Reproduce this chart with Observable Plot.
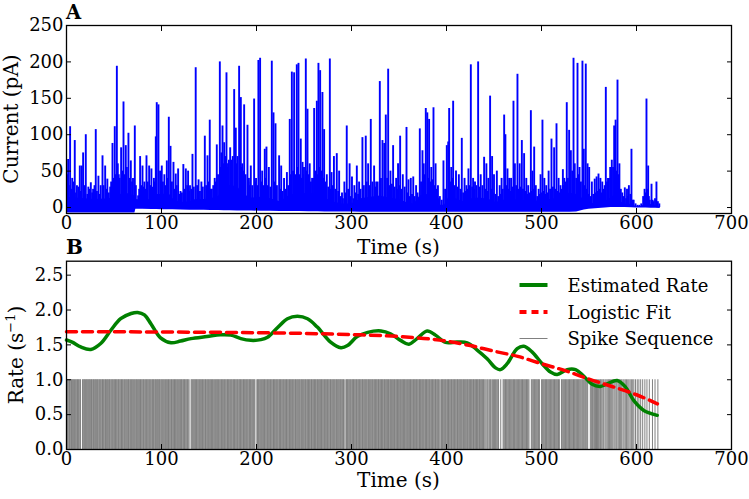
<!DOCTYPE html>
<html><head><meta charset="utf-8">
<script src="https://cdn.jsdelivr.net/npm/d3@7"></script>
<script src="https://cdn.jsdelivr.net/npm/@observablehq/plot@0.6"></script>
<style>
body{margin:0;background:#fff;}
#wrap{position:relative;width:749px;height:499px;overflow:hidden;background:#fff;}
#wrap svg{position:absolute;left:0;}
</style></head><body><div id="wrap"></div>
<script>
// ---------- Panel A: current trace ----------
const xTicks = [0, 100, 200, 300, 400, 500, 600, 700];
const yTicksA = [0, 50, 100, 150, 200, 250];
const yTicksB = [0, 0.5, 1.0, 1.5, 2.0, 2.5];

// peak current of each large burst [time s, current pA]
const currentPeaks = [[0.8,45],[1.7,66],[3.8,111],[6,40],[8.7,92],[11,30],[14,57],[16,57],[17.5,75],[20.3,100],[23,28],[25.6,34],[28,25],[30.8,107],[33.6,43],[36,30],[37.9,71],[40.7,57],[43,39],[46,28],[48.4,88],[50.8,111],[53,194],[55,45],[57.5,82],[60,145],[62.4,85],[65.2,102],[67.7,64],[70,40],[71.9,112],[75.4,16],[77.5,70],[80,57],[82,35],[84.2,71],[87,57],[89.4,53],[92,40],[94,97],[95,144],[96.8,141],[98.5,50],[100.3,57],[103,45],[105.6,64],[107.7,124],[109.5,84],[112.6,62],[115,46],[117.5,53],[120,22],[123,59],[125.6,53],[128,50],[130,30],[132.6,73],[136,192],[139,38],[142,35],[145.6,98],[148.4,71],[150.8,120],[153,25],[156,40],[158.2,86],[161.4,200],[163,75],[164.2,112],[166,89],[168.4,185],[170,60],[172.3,82],[174,65],[176.5,162],[178.2,109],[180,70],[181.7,194],[183.5,151],[185,60],[187,141],[190.5,113],[192,40],[194,57],[197.5,149],[199.5,40],[202,202],[203.8,205],[206,50],[208.7,80],[210.5,83],[213,55],[216.1,201],[217.9,130],[220,115],[223.8,71],[226,57],[229,40],[232,48],[235,121],[237.2,186],[239.6,185],[242.4,196],[244.2,198],[246.6,94],[248.5,62],[250,55],[251.9,204],[253.7,135],[256,60],[258.5,40],[260.7,136],[263.5,146],[265.2,198],[267,188],[269.4,158],[271.2,107],[274,45],[277.2,204],[279,48],[281.5,70],[284.5,74],[287,50],[290,20],[292.5,35],[295,112],[298,60],[300.5,42],[303,30],[305.6,57],[308,35],[311.5,96],[315,98],[317.5,60],[320.3,121],[323.8,57],[326,35],[329.8,173],[332.6,92],[334.5,88],[336.1,127],[338.6,190],[341,50],[343.8,85],[347,40],[349,60],[351.2,98],[354,45],[357.9,110],[360,38],[362.4,40],[365,42],[368,30],[371.9,108],[374.7,78],[376,60],[378.2,136],[379.8,130],[381.7,121],[384,55],[386.3,137],[388.5,60],[391,30],[393,15],[396.8,64],[400.3,85],[401.8,90],[402.8,136],[405,55],[407,146],[410,50],[413,45],[416.1,95],[419,40],[421,30],[423.1,53],[425.6,196],[428,40],[430,35],[433.3,200],[436,45],[439.6,69],[442,60],[444,40],[445.9,153],[448,70],[450,45],[453,50],[456,30],[458,40],[460.7,127],[462,100],[464.2,53],[466,40],[468,40],[470.5,146],[472,60],[474.7,183],[477,60],[479.3,92],[481.7,74],[484,40],[486,30],[488.8,133],[490.5,50],[492.3,83],[494,30],[497,25],[499,45],[501,120],[503,40],[505,30],[507.5,50],[510.5,94],[513.3,82],[515.8,115],[518,40],[520,30],[522.5,52],[524,40],[526.6,144],[529.1,106],[530.9,78],[533.7,205],[535,60],[537.9,198],[540,55],[543.1,201],[544.5,80],[546.6,197],[548.5,60],[550.2,55],[553,35],[556,39],[558,42],[560,46],[562,40],[564,35],[567.7,165],[570,40],[572.3,55],[574,65],[576.5,112],[578,120],[580,175],[582,60],[585,20],[587.7,27],[590,25],[592,30],[594.7,80],[597,10],[603,3],[607,15],[608.5,25],[610.5,149],[612.3,57],[614,10],[615.8,32],[618,8],[621,35],[624,5]];

// small bursts between the large ones [time s, current pA]
const smallBursts = [[2.5,30],[5,25],[7.5,35],[10,20],[12.5,28],[15,22],[19,30],[22,18],[24.5,25],[27,20],[29.5,30],[32,22],[35,18],[39,30],[42,25],[44.5,20],[47,35],[49.5,40],[52,45],[54,60],[56,40],[59,50],[61,45],[63.5,55],[66.5,40],[69,35],[73,30],[76.5,25],[79,30],[81,28],[83,25],[85.5,35],[88,30],[91,28],[93,35],[99.5,40],[101.5,35],[104,30],[106.5,40],[111,35],[114,25],[116,30],[119,18],[121.5,20],[124,25],[127,30],[129,22],[131.5,25],[134,28],[137.5,30],[140.5,22],[143.5,28],[147,30],[149.5,35],[152,25],[154.5,30],[157,35],[159.5,45],[162.5,55],[165,60],[167.5,70],[169,55],[171,65],[173,60],[175,70],[177.5,65],[179,60],[182.5,75],[184,55],[186,50],[188.5,45],[191.5,35],[193,30],[195.5,30],[198.5,35],[201,30],[205,35],[207.5,30],[209.5,40],[212,30],[214.5,28],[219,35],[221.5,30],[225,25],[227.5,22],[230.5,25],[233.5,30],[236,45],[238.5,50],[241,45],[243.3,55],[245.5,45],[247.5,40],[249,45],[252.8,50],[255,45],[257.3,35],[259.5,40],[262,50],[264.4,45],[266,55],[268.2,50],[270.3,40],[272.5,35],[275.5,28],[278,25],[280,30],[283,25],[286,22],[288.5,15],[291,12],[294,20],[296.5,25],[299,15],[302,12],[304.5,20],[307,18],[309.5,25],[313,30],[316,35],[319,30],[322,35],[325,28],[327.5,35],[331,40],[335.3,35],[337.5,40],[340,30],[342.5,32],[345.5,28],[348,25],[350,30],[352.8,25],[356,28],[359,20],[361.2,15],[363.7,18],[366.5,15],[369.5,20],[373.2,35],[375.5,40],[377.2,45],[380.7,40],[383,35],[385.2,38],[387.5,30],[389.5,25],[392,12],[395,10],[398.5,25],[404,35],[406,40],[408.5,30],[411.5,28],[414.5,25],[417.5,20],[420,22],[422,25],[424.5,30],[427,28],[429,25],[431.5,30],[435,28],[437.8,30],[441,25],[443,22],[447,25],[449,20],[451.5,18],[454.5,15],[457,18],[459.3,25],[463,30],[465,25],[467,22],[469.3,28],[471.3,25],[473.3,30],[476,25],[478,28],[480.5,25],[482.8,22],[485,18],[487.5,20],[489.8,22],[491.5,25],[493.2,20],[495.5,15],[498,18],[500,20],[502,22],[504,18],[506.3,20],[509,25],[512,28],[514.5,25],[517,22],[519,20],[521.3,25],[523.3,30],[525.3,35],[527.8,40],[530,45],[532.3,50],[534.3,45],[536.5,40],[539,45],[541.5,35],[545.5,30],[547.5,25],[549.3,18],[551.5,15],[554.5,18],[557,20],[559,22],[561,25],[563,20],[565.5,25],[566.5,30],[569,35],[571,40],[573.2,45],[575.3,55],[577.3,60],[579,50],[581,45],[583.5,25],[586.5,15],[589,12],[591,15],[593.5,18],[596,10],[599,5],[601,3],[605,5],[609.5,20],[611.5,25],[613,15],[617,10],[619.5,12],[622.5,8]];

// dense low-level activity band: time, lower edge (baseline), upper edge
const bandT  = [0,10,20,30,45,55,65,72,73,80,90,95,100,108,112,120,130,136,145,152,160,166,172,180,186,195,205,215,225,235,245,255,265,272,280,290,300,310,320,330,340,350,360,366,372,380,390,394,398,402,410,418,426,435,445,452,460,470,480,490,500,510,520,530,537,545,550,560,567,573,578,583,588,595,600,605,610,615,620,625];
const bandLo = [-7.5,-7.5,-7.5,-7.5,-7.5,-7.5,-7.5,-7.5,-2.5,-2.5,-2.7,-2.8,-3,-3.1,-3.2,-3.4,-3.6,-3.7,-3.9,-4,-4.2,-4.3,-4.4,-4.6,-4.7,-4.9,-5,-5.2,-5.4,-5.5,-5.6,-5.8,-5.9,-6,-6,-6.2,-6.3,-6.4,-6.5,-6.5,-6.5,-6.5,-6.5,-6.5,-6.5,-6.5,-6.5,-6.5,-6.5,-6.5,-6.5,-6.5,-6.5,-6.5,-6.5,-6.5,-6.5,-6.5,-6.5,-6.5,-6.5,-6.5,-6.5,-6.5,-6,-3.5,-2.5,-1.2,-0.5,0,0,0,0,-0.3,-0.5,-0.8,-0.8,-1,-1,-1.2];
const bandHi = [14,13,12,11,12,18,19,16,11,10,11,18,18,19,12,7,8,11,11,12,15,27,30,29,18,13,14,12,8,17,20,19,20,13,8,5,5,12,14,16,13,11,6,5,16,18,8,3,3,13,12,8,12,13,11,7,10,11,10,8,10,11,14,20,18,11,6,5,8,13,18,8,5,4,1,1.5,5,4,2.5,0];

// ---------- Panel B ----------
const rateT = [0,6,15,25.6,36,46.7,57,68,75,82,89,99,110,120,131,148,162,173,183.5,194,204.6,211.6,222,232.6,243,253.7,264,278,288.8,295.8,306,317,331,341,351.6,360.4,369,379.6,388.4,399,411,421.8,432,442.8,451.6,456.8,463.9,474.4,481.4,490,500.7,509.5,516.5,527,535.8,544.6,553.3,562,569,579.6,588.4,597.2,607.7,621.8];
const rateV = [1.57,1.54,1.47,1.435,1.52,1.71,1.875,1.95,1.965,1.93,1.80,1.60,1.53,1.555,1.59,1.62,1.645,1.64,1.59,1.565,1.575,1.61,1.745,1.875,1.91,1.875,1.755,1.54,1.46,1.49,1.62,1.68,1.70,1.66,1.565,1.51,1.59,1.70,1.64,1.535,1.54,1.53,1.43,1.30,1.17,1.145,1.23,1.445,1.48,1.40,1.23,1.11,1.075,1.145,1.145,1.05,0.935,0.905,0.94,0.99,0.895,0.70,0.56,0.49];
const fitT = [0,100,200,250,300,350,400,425,450,475,500,525,550,575,600,622];
const fitV = [1.69,1.685,1.675,1.665,1.648,1.62,1.555,1.49,1.41,1.335,1.23,1.13,1.01,0.90,0.785,0.655];

const spikeTimes = [0.2,0.9,1.6,2.5,3.1,3.9,4.8,5.3,6.2,7.0,7.6,8.5,9.3,
10.1,10.9,11.6,12.5,13.2,14.1,14.8,16.9,17.6,18.4,19.1,19.9,
20.8,21.4,22.3,23.0,23.9,24.5,25.4,26.3,26.9,27.8,28.5,29.3,
30.2,30.8,31.7,32.5,33.2,34.1,34.9,35.6,36.4,37.3,37.9,38.8,39.6,
40.5,41.1,42.0,42.9,43.5,44.4,45.2,45.9,46.8,47.6,48.3,49.2,
50.0,50.7,51.6,52.4,53.1,54.0,54.8,55.5,56.4,57.2,57.9,58.8,59.5,
60.4,61.2,61.9,62.8,63.5,64.4,65.2,65.8,66.7,67.5,68.3,69.1,69.8,
70.7,71.4,72.3,73.1,73.8,74.6,75.5,76.2,77.0,77.9,78.6,79.4,
80.3,81.0,81.8,82.7,83.4,84.3,85.0,85.8,86.6,87.5,88.2,89.0,89.9,
90.6,91.5,92.2,93.1,93.8,94.6,95.5,96.1,97.0,97.8,98.5,99.4,
100.2,100.9,101.8,102.5,103.4,104.1,105.0,105.7,106.5,107.4,108.1,108.9,109.8,
110.5,111.3,112.2,112.9,113.7,114.6,115.3,116.1,117.0,117.7,118.6,119.3,
120.1,121.0,121.7,122.6,123.3,124.2,124.9,125.7,126.6,127.3,128.1,129.0,
131.2,131.9,132.8,133.5,134.4,135.1,135.9,136.8,137.5,138.3,139.2,139.9,
140.8,141.5,142.3,143.2,143.9,144.7,145.6,146.3,147.1,148.0,148.7,149.6,
150.3,151.2,151.9,152.7,153.6,154.3,155.1,156.0,156.7,157.6,158.3,159.1,159.9,
160.7,161.5,162.4,163.1,164.0,164.7,165.5,166.4,167.1,167.9,168.8,169.5,
170.4,171.1,171.9,172.8,173.5,174.3,175.2,175.9,176.8,177.5,178.3,179.2,179.9,
180.7,181.6,182.3,183.2,183.9,184.7,185.6,186.3,187.2,187.9,188.7,189.6,
190.3,191.1,192.0,192.7,193.6,194.3,195.1,196.0,196.7,197.6,198.3,200.4,
201.1,202.0,202.7,203.5,204.4,205.1,206.0,206.7,207.5,208.4,209.1,209.9,
210.8,211.5,212.4,213.1,213.9,214.8,215.5,216.3,217.2,217.9,218.8,219.5,
220.3,221.2,221.9,222.7,223.6,224.3,225.2,225.9,226.7,227.6,228.3,229.1,229.9,
230.7,231.6,232.3,233.1,234.0,234.7,235.6,236.3,237.1,238.0,238.7,239.5,
240.4,241.1,241.9,242.8,243.5,244.4,245.1,245.9,246.8,247.5,248.3,249.2,249.9,
250.8,251.5,252.3,253.2,253.9,254.7,255.6,256.3,257.2,257.9,258.7,259.6,
260.3,261.1,262.0,262.7,263.6,264.3,265.1,266.0,266.7,267.5,268.4,269.1,269.9,
270.8,271.5,272.4,273.1,273.9,274.8,275.5,276.3,277.2,277.9,278.7,279.6,
280.3,281.2,281.9,282.7,283.6,284.3,285.1,286.0,286.7,287.6,288.3,289.1,289.9,
290.7,291.6,292.3,294.1,294.8,295.7,296.4,297.2,298.1,298.8,299.6,
300.5,301.2,302.1,302.8,303.6,304.5,305.2,306.0,306.9,307.6,308.5,309.2,
310.0,310.9,311.6,312.4,313.3,314.0,314.9,315.6,316.4,317.3,318.0,318.8,319.7,
320.4,321.3,322.0,322.8,323.7,324.4,325.2,326.1,326.8,327.7,328.4,329.2,
330.1,330.8,331.6,332.5,333.2,334.1,334.8,335.6,336.5,337.2,338.0,338.9,339.6,
340.5,341.2,342.0,342.9,343.6,344.4,345.3,346.0,346.9,347.6,348.4,349.3,
350.0,350.8,351.7,352.4,353.3,354.0,354.8,355.7,356.4,357.2,358.1,358.8,359.7,
360.4,361.2,362.1,362.8,363.6,364.5,365.2,366.1,366.8,367.6,368.5,369.2,
370.0,370.9,371.6,372.5,373.2,374.0,374.9,375.6,376.4,377.3,378.0,378.9,379.6,
380.4,381.3,382.0,382.8,383.7,384.4,385.3,386.0,386.8,387.7,388.4,389.2,
390.1,390.8,391.7,392.4,394.0,394.8,395.7,396.4,397.2,398.1,398.8,399.6,
400.5,401.2,402.1,402.8,403.6,404.5,405.2,406.0,406.9,407.6,408.5,409.2,
410.0,410.9,411.6,412.4,413.3,414.0,414.9,415.6,416.4,417.3,418.0,418.8,419.7,
420.4,421.3,422.0,422.8,423.7,424.4,425.2,426.1,426.8,427.7,428.4,429.2,
430.1,430.8,431.6,432.5,433.2,434.1,434.8,435.6,436.5,437.2,438.0,438.9,439.6,
440.6,441.7,442.9,443.8,445.1,446.2,447.0,448.3,449.4,
450.6,451.5,452.8,453.9,454.8,457.1,459.6,
460.4,461.3,462.1,463.0,463.8,464.7,465.5,466.4,467.2,468.1,468.9,469.8,
470.6,471.5,472.3,473.2,474.0,474.9,475.7,476.6,477.4,478.3,479.1,
480.0,480.8,481.7,482.5,483.4,484.2,485.1,485.9,486.8,489.3,
490.1,491.0,491.8,492.7,493.5,494.4,495.2,496.1,496.9,497.8,500.1,
500.9,501.8,502.6,503.5,504.3,505.2,506.0,506.9,507.7,508.6,509.4,
510.3,511.1,512.0,512.8,513.7,514.5,515.4,516.2,517.1,517.9,518.8,521.0,
521.8,522.7,523.5,524.4,525.2,526.1,526.9,527.8,528.6,529.5,
530.3,531.2,532.0,532.9,533.7,534.6,535.4,536.3,537.1,538.0,538.8,539.7,
540.6,541.5,542.5,543.4,544.4,545.5,546.5,547.6,548.6,
551.4,552.5,553.6,554.5,555.7,556.8,557.9,558.9,
560.1,561.3,562.2,563.4,564.6,565.5,566.9,568.0,569.2,
570.4,571.5,572.8,573.9,575.0,576.3,577.4,578.6,579.5,
580.8,582.0,583.3,584.4,585.8,586.9,588.2,589.4,
590.8,592.0,593.3,594.6,596.0,597.2,598.9,
600.8,602.5,604.4,606.5,608.8,611.0,613.5,616.8,619.5,622.5];

// ---------- build tables ----------
const peaks = currentPeaks.concat(smallBursts).map(([t, v]) => ({t, v}));
const band = bandT.map((t, i) => ({t, lo: bandLo[i], hi: bandHi[i]}));
const rate = rateT.map((t, i) => ({t, v: rateV[i]}));
const fit = fitT.map((t, i) => ({t, v: fitV[i]}));

const FONT = '"DejaVu Serif", serif';
const common = {
  width: 749,
  style: {fontFamily: FONT, fontSize: "18px", background: "transparent", color: "#000", overflow: "visible"}
};
const axes = (yTicks, fmt) => [
  Plot.frame({stroke: "#000", strokeWidth: 1.3}),
  Plot.axisX({anchor: "bottom", ticks: xTicks, tickSize: -5, tickPadding: 8, label: null}),
  Plot.axisX({anchor: "top", ticks: xTicks, tickSize: -5, tickFormat: () => "", label: null}),
  Plot.axisY({anchor: "left", ticks: yTicks, tickSize: -5, tickPadding: 8, tickFormat: fmt, label: null}),
  Plot.axisY({anchor: "right", ticks: yTicks, tickSize: -5, tickFormat: () => "", label: null})
];

const plotA = Plot.plot({
  ...common, height: 250,
  marginLeft: 66, marginRight: 18, marginTop: 25, marginBottom: 37,
  x: {domain: [0, 700]}, y: {domain: [-8.2, 250]},
  marks: [
    Plot.areaY(band, {x: "t", y1: "lo", y2: "hi", fill: "#0000ff"}),
    Plot.ruleX(peaks, {x: "t", y1: 0, y2: "v", stroke: "#0000ff", strokeWidth: 1.9}),
    ...axes(yTicksA, d => String(d))
  ]
});

const plotB = Plot.plot({
  ...common, height: 249,
  marginLeft: 66, marginRight: 18, marginTop: 10.7, marginBottom: 50,
  x: {domain: [0, 700]}, y: {domain: [0, 2.7]},
  marks: [
    Plot.ruleX(spikeTimes, {x: d => d, y1: 0, y2: 1, stroke: "#808080", strokeWidth: 1}),
    Plot.line(rate, {x: "t", y: "v", stroke: "#008000", strokeWidth: 3.5, curve: "catmull-rom"}),
    Plot.line(fit, {x: "t", y: "v", stroke: "#ff0000", strokeWidth: 3.5, strokeDasharray: "10,6", curve: "monotone-x"}),
    ...axes(yTicksB, d3.format(".1f"))
  ]
});

const wrap = document.getElementById("wrap");
plotA.style.top = "0px";
plotB.style.top = "250px";
wrap.appendChild(plotA);
wrap.appendChild(plotB);

// ---------- overlay: panel letters, axis titles, legend ----------
const ns = "http://www.w3.org/2000/svg";
const ov = document.createElementNS(ns, "svg");
ov.setAttribute("width", 749); ov.setAttribute("height", 499);
ov.style.top = "0px"; ov.style.pointerEvents = "none";
ov.setAttribute("font-family", FONT);
ov.innerHTML = `
  <text x="66" y="18.5" font-size="19.5" font-weight="bold">A</text>
  <text x="66" y="253.5" font-size="20" font-weight="bold">B</text>
  <text x="398.5" y="254" font-size="20" text-anchor="middle">Time (s)</text>
  <text x="398.5" y="487" font-size="20" text-anchor="middle">Time (s)</text>
  <text transform="translate(18,119) rotate(-90)" font-size="20" text-anchor="middle">Current (pA)</text>
  <text transform="translate(23,355) rotate(-90)" font-size="20" text-anchor="middle">Rate (s<tspan font-size="13" dy="-8">−1</tspan><tspan dy="8">)</tspan></text>
  <line x1="519.5" x2="547.5" y1="285" y2="285" stroke="#008000" stroke-width="4"/>
  <line x1="519.5" x2="547.5" y1="312" y2="312" stroke="#ff0000" stroke-width="4" stroke-dasharray="7,5"/>
  <line x1="519.5" x2="547.5" y1="338.5" y2="338.5" stroke="#808080" stroke-width="1"/>
  <text x="567.5" y="291.5" font-size="18">Estimated Rate</text>
  <text x="567.5" y="318.5" font-size="18">Logistic Fit</text>
  <text x="567.5" y="345" font-size="18">Spike Sequence</text>
`;
wrap.appendChild(ov);
</script></body></html>
